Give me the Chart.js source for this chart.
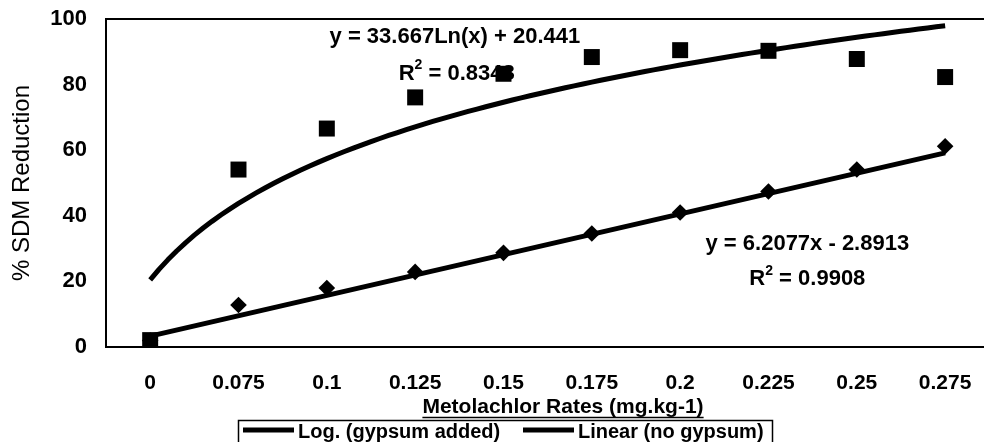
<!DOCTYPE html>
<html>
<head>
<meta charset="utf-8">
<script src="https://cdn.jsdelivr.net/npm/chart.js@4.4.0/dist/chart.umd.min.js"></script>
<style>
  html, body { margin: 0; padding: 0; background: #fff; overflow: hidden; }
</style>
</head>
<body>
<canvas id="myChart" width="984" height="442"></canvas>
<script>
// x categories (metolachlor rate)
const rates = ['0', '0.075', '0.1', '0.125', '0.15', '0.175', '0.2', '0.225', '0.25', '0.275'];
// % SDM reduction
const gypsumAdded = [2.1, 54.1, 66.6, 76.1, 83.3, 88.4, 90.5, 90.3, 87.8, 82.3];
const noGypsum = [2.0, 12.8, 18.0, 22.9, 28.7, 34.6, 41.0, 47.4, 54.1, 61.2];
const yTicks = [0, 20, 40, 60, 80, 100];

// trendlines as printed on the chart (x = category number 1..10)
const logA = 33.667, logB = 20.441, logR2 = 0.8348;
const linA = 6.2077, linB = -2.8913, linR2 = 0.9908;

const FONT = '"Liberation Sans", Arial, sans-serif';

const pts = arr => arr.map((v, i) => ({ x: i + 1, y: v }));

// the log trendline is drawn from its printed equation
let logLine = [];
for (let i = 0; i <= 90; i++) {
  let x = 1 + i * 0.1;
  logLine.push({ x: x, y: logA * Math.log(x) + logB });
}
let linLine = [1, 10].map(x => ({ x: x, y: linA * x + linB }));

// draws "R² = value" centred on cx
function drawR2(ctx, value, cx, cy) {
  let big = 'bold 22px ' + FONT;
  let small = 'bold 14px ' + FONT;
  let rest = ' = ' + value;
  ctx.font = big;
  let wR = ctx.measureText('R').width;
  let wRest = ctx.measureText(rest).width;
  ctx.font = small;
  let w2 = ctx.measureText('2').width;
  let x0 = cx - (wR + w2 + wRest) / 2;
  ctx.textAlign = 'left';
  ctx.textBaseline = 'middle';
  ctx.font = big;
  ctx.fillText('R', x0, cy);
  ctx.font = small;
  ctx.fillText('2', x0 + wR, cy - 8);
  ctx.font = big;
  ctx.fillText(rest, x0 + wR + w2, cy);
}

const extras = {
  id: 'extras',
  beforeDatasetsDraw(chart) {
    const { ctx, scales: { x, y } } = chart;
    ctx.save();
    ctx.fillStyle = '#000';
    ctx.font = 'bold 22px ' + FONT;
    ctx.textAlign = 'center';
    ctx.textBaseline = 'middle';
    ctx.fillText('y = ' + logA + 'Ln(x) + ' + logB, x.getPixelForValue(4.45), y.getPixelForValue(94.5));
    drawR2(ctx, logR2, x.getPixelForValue(4.47), y.getPixelForValue(83.4));
    ctx.font = 'bold 22px ' + FONT;
    ctx.textAlign = 'center';
    ctx.fillText('y = ' + linA + 'x - ' + Math.abs(linB), x.getPixelForValue(8.44), y.getPixelForValue(31.4));
    drawR2(ctx, linR2, x.getPixelForValue(8.44), y.getPixelForValue(20.7));
    ctx.restore();
  },
  afterDraw(chart) {
    const { ctx, chartArea } = chart;
    ctx.save();
    ctx.strokeStyle = '#000';
    ctx.fillStyle = '#000';

    // top border of plot
    ctx.lineWidth = 2;
    ctx.beginPath();
    ctx.moveTo(chartArea.left, chartArea.top);
    ctx.lineTo(chartArea.right, chartArea.top);
    ctx.stroke();

    // x axis title, underlined
    let title = 'Metolachlor Rates (mg.kg-1)';
    ctx.font = 'bold 21px ' + FONT;
    ctx.textAlign = 'center';
    ctx.textBaseline = 'middle';
    ctx.fillText(title, 563, 407);
    let tw = ctx.measureText(title).width;
    ctx.lineWidth = 1.5;
    ctx.beginPath();
    ctx.moveTo(563 - tw / 2, 417.5);
    ctx.lineTo(563 + tw / 2, 417.5);
    ctx.stroke();

    // legend box (trendlines only)
    ctx.lineWidth = 1.5;
    ctx.strokeRect(238.5, 420.5, 534, 40);
    let items = chart.data.datasets.filter(d => d.type === 'line');
    let spots = [243, 523];
    ctx.font = 'bold 20px ' + FONT;
    ctx.textAlign = 'left';
    items.forEach((d, i) => {
      ctx.lineWidth = 5;
      ctx.beginPath();
      ctx.moveTo(spots[i], 430);
      ctx.lineTo(spots[i] + 51, 430);
      ctx.stroke();
      ctx.fillText(d.label, spots[i] + 55, 432);
    });
    ctx.restore();
  }
};

const ctx = document.getElementById('myChart');

new Chart(ctx, {
  type: 'scatter',
  data: {
    datasets: [
      {
        label: 'gypsum added',
        data: pts(gypsumAdded),
        pointStyle: 'rect',
        pointRadius: 11.3,
        backgroundColor: '#000',
        borderColor: '#000',
        borderWidth: 0
      },
      {
        label: 'no gypsum',
        data: pts(noGypsum),
        pointStyle: 'rectRot',
        pointRadius: 8.3,
        backgroundColor: '#000',
        borderColor: '#000',
        borderWidth: 0
      },
      {
        label: 'Log. (gypsum added)',
        type: 'line',
        data: logLine,
        borderColor: '#000',
        borderWidth: 5,
        borderJoinStyle: 'round',
        pointRadius: 0,
        fill: false,
        tension: 0
      },
      {
        label: 'Linear (no gypsum)',
        type: 'line',
        data: linLine,
        borderColor: '#000',
        borderWidth: 5,
        pointRadius: 0,
        fill: false,
        tension: 0
      }
    ]
  },
  options: {
    responsive: false,
    animation: false,
    layout: { autoPadding: false, padding: { top: 19, right: 0, bottom: 0, left: 0 } },
    plugins: {
      legend: { display: false },
      tooltip: { enabled: false }
    },
    scales: {
      x: {
        type: 'linear',
        min: 0.5,
        max: 10.44,
        afterBuildTicks: s => { s.ticks = rates.map((r, i) => ({ value: i + 1 })); },
        afterFit: s => { s.height = 95; s.paddingLeft = 0; s.paddingRight = 0; },
        ticks: {
          callback: v => rates[v - 1] ?? '',
          padding: 24,
          maxRotation: 0,
          autoSkip: false,
          color: '#000',
          font: { family: FONT, size: 21, weight: 'bold' }
        },
        grid: { display: false, drawTicks: false },
        border: { display: true, color: '#000', width: 2 }
      },
      y: {
        min: 0,
        max: 100,
        afterBuildTicks: s => { s.ticks = yTicks.map(v => ({ value: v })); },
        afterFit: s => { s.width = 106; s.paddingTop = 0; s.paddingBottom = 0; },
        ticks: {
          padding: 19,
          color: '#000',
          font: { family: FONT, size: 22, weight: 'bold' }
        },
        title: {
          display: true,
          text: '% SDM Reduction',
          color: '#000',
          font: { family: FONT, size: 24 },
          padding: { top: 8, bottom: 0 }
        },
        grid: { display: false, drawTicks: false },
        border: { display: true, color: '#000', width: 2 }
      }
    }
  },
  plugins: [extras]
});
</script>
</body>
</html>
